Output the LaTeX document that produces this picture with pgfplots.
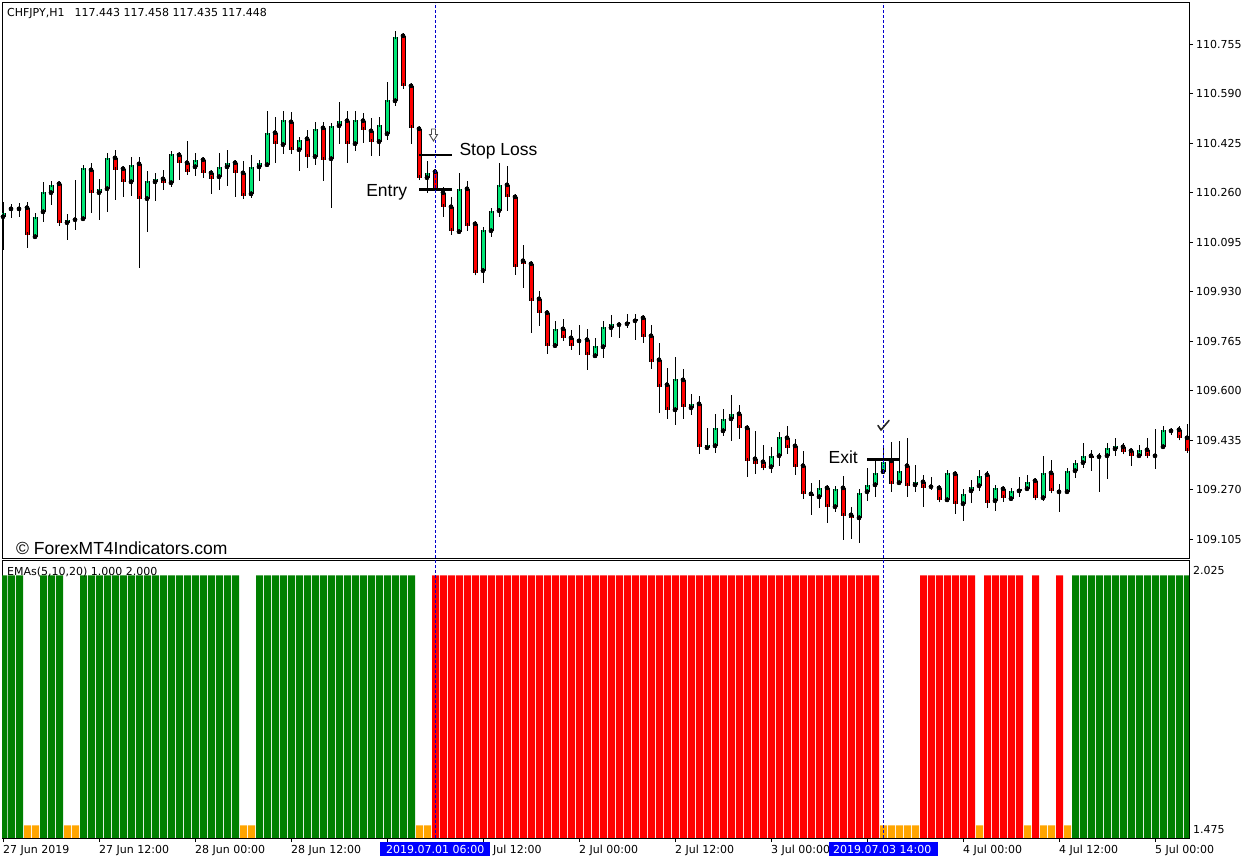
\documentclass[border=0pt]{standalone}
\usepackage{fontspec}
\usepackage{pgfplots}
\pgfplotsset{compat=1.18}
\usepackage{pgfplotstable}
\newfontfamily\mt{DejaVu Sans}
\newfontfamily\ar{Liberation Sans}
\newcommand\mtf{\mt\fontsize{11bp}{13bp}\selectfont}
\newcommand\arf{\ar\fontsize{17.5bp}{20bp}\selectfont}
\definecolor{candleup}{RGB}{0,230,118}
\definecolor{candledn}{RGB}{255,0,0}
\definecolor{histg}{RGB}{0,128,0}
\definecolor{histr}{RGB}{255,0,0}
\definecolor{histo}{RGB}{255,165,0}
\definecolor{vline}{RGB}{0,0,205}

\pgfplotstableread{
k o h l c
0 110.180 110.230 110.070 110.193
1 110.206 110.223 110.176 110.206
2 110.206 110.226 110.180 110.206
3 110.210 110.230 110.076 110.120
4 110.113 110.193 110.113 110.180
5 110.196 110.296 110.163 110.263
6 110.260 110.300 110.220 110.286
7 110.290 110.290 110.150 110.160
8 110.160 110.190 110.103 110.170
9 110.170 110.303 110.136 110.170
10 110.173 110.353 110.173 110.343
11 110.336 110.360 110.193 110.260
12 110.260 110.306 110.170 110.273
13 110.273 110.393 110.196 110.376
14 110.376 110.403 110.236 110.336
15 110.340 110.346 110.246 110.296
16 110.296 110.380 110.250 110.353
17 110.356 110.380 110.010 110.240
18 110.240 110.333 110.130 110.300
19 110.296 110.326 110.233 110.306
20 110.306 110.336 110.270 110.293
21 110.293 110.390 110.280 110.390
22 110.386 110.386 110.303 110.360
23 110.360 110.433 110.320 110.330
24 110.346 110.393 110.316 110.370
25 110.370 110.370 110.310 110.326
26 110.326 110.326 110.256 110.306
27 110.313 110.393 110.270 110.346
28 110.346 110.403 110.283 110.360
29 110.360 110.363 110.246 110.326
30 110.326 110.366 110.240 110.250
31 110.256 110.386 110.243 110.346
32 110.346 110.363 110.300 110.360
33 110.353 110.533 110.350 110.460
34 110.460 110.513 110.360 110.423
35 110.420 110.533 110.390 110.503
36 110.496 110.530 110.390 110.403
37 110.403 110.446 110.333 110.436
38 110.440 110.470 110.343 110.380
39 110.380 110.496 110.353 110.473
40 110.476 110.496 110.300 110.370
41 110.373 110.493 110.210 110.483
42 110.483 110.563 110.423 110.500
43 110.500 110.533 110.360 110.423
44 110.423 110.533 110.400 110.503
45 110.500 110.526 110.426 110.470
46 110.466 110.510 110.383 110.430
47 110.430 110.513 110.383 110.486
48 110.456 110.630 110.436 110.570
49 110.566 110.800 110.550 110.780
50 110.783 110.783 110.606 110.616
51 110.616 110.616 110.423 110.476
52 110.473 110.483 110.310 110.310
53 110.310 110.366 110.260 110.326
54 110.330 110.330 110.260 110.270
55 110.260 110.280 110.180 110.213
56 110.213 110.246 110.120 110.133
57 110.130 110.326 110.130 110.273
58 110.273 110.300 110.133 110.150
59 110.156 110.163 109.986 109.993
60 110.000 110.143 109.960 110.136
61 110.133 110.203 110.113 110.200
62 110.200 110.360 110.180 110.286
63 110.286 110.350 110.200 110.246
64 110.246 110.246 109.986 110.013
65 110.033 110.086 109.943 110.023
66 110.023 110.023 109.793 109.900
67 109.906 109.933 109.816 109.860
68 109.860 109.870 109.723 109.750
69 109.750 109.833 109.746 109.806
70 109.806 109.840 109.766 109.776
71 109.776 109.803 109.736 109.750
72 109.766 109.820 109.720 109.766
73 109.770 109.806 109.670 109.720
74 109.716 109.776 109.713 109.750
75 109.746 109.833 109.710 109.813
76 109.810 109.853 109.780 109.823
77 109.820 109.830 109.776 109.820
78 109.823 109.856 109.810 109.830
79 109.833 109.856 109.770 109.840
80 109.843 109.843 109.760 109.780
81 109.783 109.820 109.673 109.696
82 109.703 109.760 109.526 109.613
83 109.620 109.676 109.506 109.536
84 109.536 109.713 109.486 109.640
85 109.636 109.673 109.506 109.546
86 109.543 109.590 109.520 109.556
87 109.556 109.583 109.390 109.413
88 109.410 109.476 109.406 109.420
89 109.416 109.523 109.393 109.476
90 109.466 109.540 109.450 109.506
91 109.506 109.586 109.433 109.523
92 109.523 109.553 109.440 109.476
93 109.476 109.483 109.313 109.366
94 109.373 109.466 109.323 109.356
95 109.363 109.420 109.343 109.343
96 109.346 109.413 109.326 109.383
97 109.383 109.463 109.350 109.446
98 109.443 109.483 109.390 109.410
99 109.416 109.440 109.320 109.346
100 109.350 109.400 109.240 109.256
101 109.256 109.293 109.186 109.250
102 109.246 109.303 109.210 109.276
103 109.276 109.280 109.160 109.213
104 109.213 109.280 109.196 109.273
105 109.276 109.316 109.103 109.183
106 109.186 109.213 109.106 109.176
107 109.176 109.273 109.093 109.260
108 109.263 109.343 109.233 109.286
109 109.286 109.370 109.246 109.326
110 109.330 109.413 109.326 109.363
111 109.366 109.430 109.263 109.290
112 109.293 109.433 109.293 109.333
113 109.350 109.443 109.246 109.283
114 109.286 109.353 109.263 109.296
115 109.296 109.320 109.213 109.276
116 109.280 109.313 109.270 109.280
117 109.276 109.276 109.230 109.236
118 109.236 109.326 109.233 109.326
119 109.323 109.323 109.190 109.223
120 109.223 109.273 109.166 109.256
121 109.266 109.303 109.226 109.280
122 109.283 109.336 109.266 109.316
123 109.320 109.333 109.210 109.226
124 109.233 109.280 109.200 109.276
125 109.273 109.276 109.230 109.243
126 109.240 109.276 109.233 109.266
127 109.266 109.313 109.246 109.273
128 109.273 109.320 109.266 109.296
129 109.300 109.303 109.240 109.243
130 109.243 109.383 109.233 109.326
131 109.326 109.370 109.266 109.266
132 109.263 109.290 109.196 109.263
133 109.263 109.336 109.263 109.333
134 109.333 109.366 109.310 109.360
135 109.360 109.426 109.343 109.383
136 109.383 109.403 109.333 109.376
137 109.380 109.393 109.263 109.380
138 109.383 109.426 109.306 109.410
139 109.406 109.443 109.383 109.416
140 109.413 109.426 109.393 109.396
141 109.400 109.410 109.350 109.383
142 109.383 109.420 109.380 109.403
143 109.403 109.443 109.380 109.383
144 109.383 109.473 109.340 109.383
145 109.413 109.483 109.413 109.470
146 109.466 109.473 109.453 109.466
147 109.470 109.483 109.443 109.443
148 109.443 109.490 109.393 109.400
}\candles

\begin{document}
\begin{tikzpicture}
\useasboundingbox (0,0) rectangle (1253bp,862bp);
\fill[white] (0,0) rectangle (1253bp,862bp);

% ---------- price panel ----------
\begin{axis}[
  at={(2bp,303bp)}, anchor=south west, scale only axis,
  width=1187bp, height=556.5bp,
  xmin=-0.125, xmax=148.25, ymin=109.039, ymax=110.894,
  axis line style={black, line width=1bp},
  xtick=\empty,
  ytick={109.105,109.270,109.435,109.600,109.765,109.930,110.095,110.260,110.425,110.590,110.755},
  yticklabels={109.105,109.270,109.435,109.600,109.765,109.930,110.095,110.260,110.425,110.590,110.755},
  ytick pos=right, tick align=outside, major tick length=4bp,
  tick style={black, line width=0.8bp},
  yticklabel style={font=\mtf, anchor=west, inner sep=0pt, xshift=3bp},
  clip=true,
]
% wicks
\addplot[only marks, mark=none, forget plot,
  error bars/.cd, y dir=both, y explicit, error mark=none,
  error bar style={black, solid, line width=1bp}]
  table[x=k, y=o, y error plus expr=\thisrow{h}-\thisrow{o}, y error minus expr=\thisrow{o}-\thisrow{l}] {\candles};
% body outlines
\addplot[only marks, mark=none, forget plot,
  error bars/.cd, y dir=both, y explicit, error mark=none,
  error bar style={black, solid, line width=5bp}]
  table[x=k, y=o, y error plus expr={max(\thisrow{c}-\thisrow{o},0)}, y error minus expr={max(\thisrow{o}-\thisrow{c},0)}] {\candles};
% up bodies
\addplot[only marks, mark=none, forget plot,
  restrict expr to domain={\thisrow{c}-\thisrow{o}}{0:5},
  error bars/.cd, y dir=both, y explicit, error mark=-,
  error mark options={black, solid, line width=1bp, mark size=2.5bp},
  error bar style={candleup, solid, line width=3bp}]
  table[x=k, y=o, y error plus expr={max(\thisrow{c}-\thisrow{o},0)}, y error minus expr={max(\thisrow{o}-\thisrow{c},0)}] {\candles};
% down bodies
\addplot[only marks, mark=none, forget plot,
  restrict expr to domain={\thisrow{o}-\thisrow{c}}{0.0001:5},
  error bars/.cd, y dir=both, y explicit, error mark=-,
  error mark options={black, solid, line width=1bp, mark size=2.5bp},
  error bar style={candledn, solid, line width=3bp}]
  table[x=k, y=o, y error plus expr={max(\thisrow{c}-\thisrow{o},0)}, y error minus expr={max(\thisrow{o}-\thisrow{c},0)}] {\candles};

% annotations
\draw[black, line width=2.5bp] (axis cs:52,110.386) -- (axis cs:56.1,110.386);
\draw[black, line width=2.5bp] (axis cs:52,110.270) -- (axis cs:56.1,110.270);
\draw[black, line width=2.5bp] (axis cs:108,109.370) -- (axis cs:112.1,109.370);
\node[anchor=base west, inner sep=0pt, font=\arf] at (axis cs:57.04,110.383) {Stop Loss};
\node[anchor=base east, inner sep=0pt, font=\arf] at (axis cs:50.54,110.247) {Entry};
\node[anchor=base east, inner sep=0pt, font=\arf] at (axis cs:106.875,109.356) {Exit};
\end{axis}

% ---------- indicator panel ----------
\begin{axis}[
  at={(2bp,24bp)}, anchor=south west, scale only axis,
  width=1187bp, height=277bp,
  xmin=-0.125, xmax=148.25, ymin=1.475, ymax=2.029,
  axis line style={black, line width=1bp},
  xtick={0,12,24,36,48,60,72,84,96,108,120,132,144},
  xticklabels={27 Jun 2019,27 Jun 12:00,28 Jun 00:00,28 Jun 12:00,{},{},2 Jul 00:00,2 Jul 12:00,3 Jul 00:00,{},4 Jul 00:00,4 Jul 12:00,5 Jul 00:00},
  ytick={1.491,2.011},
  yticklabels={1.475,2.025},
  xtick pos=left, ytick pos=right, tick align=outside, major tick length=4bp,
  xtick style={black, line width=0.8bp},
  ytick style={draw=none},
  xticklabel style={font=\mtf, anchor=north west, inner sep=0pt, yshift=-3bp},
  yticklabel style={font=\mtf, anchor=west, inner sep=0pt, xshift=0bp},
  clip=true,
]
\addplot[ybar, bar width=7bp, bar shift=0.5bp, fill=histg, draw=none] coordinates {
(0,2) (1,2) (2,2) (5,2) (6,2) (7,2)
(10,2) (11,2) (12,2) (13,2) (14,2) (15,2) (16,2) (17,2) (18,2) (19,2)
(20,2) (21,2) (22,2) (23,2) (24,2) (25,2) (26,2) (27,2) (28,2) (29,2)
(32,2) (33,2) (34,2) (35,2) (36,2) (37,2) (38,2) (39,2) (40,2) (41,2)
(42,2) (43,2) (44,2) (45,2) (46,2) (47,2) (48,2) (49,2) (50,2) (51,2)
(134,2) (135,2) (136,2) (137,2) (138,2) (139,2) (140,2) (141,2) (142,2)
(143,2) (144,2) (145,2) (146,2) (147,2) (148,2)};
\addplot[ybar, bar width=7bp, bar shift=0.5bp, fill=histo, draw=none] coordinates {
(3,1.5) (4,1.5) (8,1.5) (9,1.5) (30,1.5) (31,1.5) (52,1.5) (53,1.5)
(110,1.5) (111,1.5) (112,1.5) (113,1.5) (114,1.5) (122,1.5) (128,1.5)
(130,1.5) (131,1.5) (133,1.5)};
\addplot[ybar, bar width=7bp, bar shift=0.5bp, fill=histr, draw=none] coordinates {
(54,2) (55,2) (56,2) (57,2) (58,2) (59,2) (60,2) (61,2) (62,2) (63,2)
(64,2) (65,2) (66,2) (67,2) (68,2) (69,2) (70,2) (71,2) (72,2) (73,2)
(74,2) (75,2) (76,2) (77,2) (78,2) (79,2) (80,2) (81,2) (82,2) (83,2)
(84,2) (85,2) (86,2) (87,2) (88,2) (89,2) (90,2) (91,2) (92,2) (93,2)
(94,2) (95,2) (96,2) (97,2) (98,2) (99,2) (100,2) (101,2) (102,2) (103,2)
(104,2) (105,2) (106,2) (107,2) (108,2) (109,2)
(115,2) (116,2) (117,2) (118,2) (119,2) (120,2) (121,2)
(123,2) (124,2) (125,2) (126,2) (127,2) (129,2) (132,2)};
\end{axis}

% vertical dashed lines
\draw[vline, dash pattern=on 3bp off 2bp, line width=1bp] (435bp,24bp) -- (435bp,859bp);
\draw[vline, dash pattern=on 3bp off 2bp, line width=1bp] (883bp,24bp) -- (883bp,859bp);

% sell arrow (hollow, pointing down) and exit check mark
\draw[black!70, fill=white, line width=0.9bp, line join=miter]
  (431.5bp,733bp) -- (435.5bp,733bp) -- (435.5bp,727.5bp) -- (437.5bp,727.5bp)
  -- (433.5bp,721bp) -- (429.5bp,727.5bp) -- (431.5bp,727.5bp) -- cycle;
\draw[black!85, line width=1.6bp, line cap=round, line join=round]
  (878bp,436.5bp) -- (881bp,432bp) -- (889bp,441.5bp);

% highlighted time boxes
\node[anchor=base west, inner sep=0pt, font=\mtf] at (493bp,8.5bp) {Jul 12:00};
\fill[blue] (380bp,6bp) rectangle (490bp,20bp);
\node[anchor=base west, inner sep=0pt, text=white, font=\mtf] at (386bp,8.5bp) {2019.07.01 06:00};
\fill[blue] (829bp,6bp) rectangle (938bp,20bp);
\node[anchor=base west, inner sep=0pt, text=white, font=\mtf] at (833bp,8.5bp) {2019.07.03 14:00};

% texts
\node[anchor=base west, inner sep=0pt, font=\mtf] at (7bp,845.5bp) {CHFJPY,H1\hspace{10bp}117.443 117.458 117.435 117.448};
\node[anchor=base west, inner sep=0pt, font=\mtf] at (7bp,286bp) {EMAs(5,10,20) 1.000 2.000};
\node[anchor=base west, inner sep=0pt, font=\arf] at (16bp,307bp) {© ForexMT4Indicators.com};
\end{tikzpicture}
\end{document}
